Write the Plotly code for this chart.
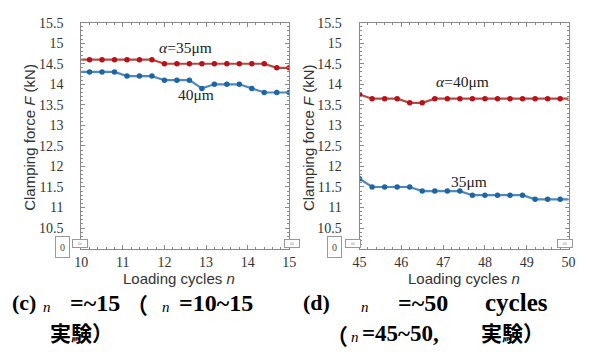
import plotly.graph_objects as go

# ---------------- data ----------------
left_cycles = [9.9, 10.2, 10.5, 10.8, 11.1, 11.4, 11.7, 12.0, 12.3, 12.6, 12.9,
               13.2, 13.5, 13.8, 14.1, 14.4, 14.7, 15.0]
left_a35 = [14.6, 14.6, 14.6, 14.6, 14.6, 14.6, 14.6, 14.5, 14.5, 14.5, 14.5,
            14.5, 14.5, 14.5, 14.5, 14.5, 14.4, 14.4]
left_a40 = [14.3, 14.3, 14.3, 14.3, 14.2, 14.2, 14.2, 14.1, 14.1, 14.1, 13.9,
            14.0, 14.0, 14.0, 13.9, 13.8, 13.8, 13.8]

right_cycles = [45.0, 45.3, 45.6, 45.9, 46.2, 46.5, 46.8, 47.1, 47.4, 47.7, 48.0,
                48.3, 48.6, 48.9, 49.2, 49.5, 49.8, 50.1]
right_a40 = [13.75, 13.65, 13.65, 13.65, 13.55, 13.55, 13.65, 13.65, 13.65, 13.65,
             13.65, 13.65, 13.65, 13.65, 13.65, 13.65, 13.65, 13.65]
right_a35 = [11.7, 11.5, 11.5, 11.5, 11.5, 11.4, 11.4, 11.4, 11.4, 11.3, 11.3,
             11.3, 11.3, 11.3, 11.2, 11.2, 11.2, 11.2]

y_ticks = [10.5, 11, 11.5, 12, 12.5, 13, 13.5, 14, 14.5, 15, 15.5]
y_ticktext = ["10.5", "11", "11.5", "12", "12.5", "13", "13.5", "14", "14.5", "15", "15.5"]
left_xticks = [10, 11, 12, 13, 14, 15]
right_xticks = [45, 46, 47, 48, 49, 50]

RED_LINE = "#b24a47"
RED_MK = "#bb1018"
BLUE_LINE = "#4f88ba"
BLUE_MK = "#1d66a4"

W, H = 598, 352
SERIF = "Liberation Serif, Times New Roman, serif"
SANS = "Liberation Sans, Arial, sans-serif"
CJK = "Noto Sans CJK JP"

fig = go.Figure()


def add_series(x, y, xa, ya, lc, mc):
    fig.add_trace(go.Scatter(x=x, y=y, xaxis=xa, yaxis=ya, mode="lines+markers",
                             line=dict(color=lc, width=2.2),
                             marker=dict(color=mc, size=5.5),
                             showlegend=False, hoverinfo="x+y"))


add_series(left_cycles, left_a35, "x", "y", RED_LINE, RED_MK)
add_series(left_cycles, left_a40, "x", "y", BLUE_LINE, BLUE_MK)
add_series(right_cycles, right_a40, "x2", "y2", RED_LINE, RED_MK)
add_series(right_cycles, right_a35, "x2", "y2", BLUE_LINE, BLUE_MK)

px = lambda v: v / W
py = lambda v: 1 - v / H

frame = dict(showline=True, linecolor="#8a8a8a", linewidth=1, mirror="allticks",
             ticks="inside", ticklen=4, tickcolor="#8a8a8a", showgrid=False,
             zeroline=False, tickfont=dict(family=SERIF, size=14, color="#333"))
xminor = dict(dtick=0.2, ticklen=2, ticks="inside", tickcolor="#8a8a8a")
yminor = dict(dtick=0.1, ticklen=2, ticks="inside", tickcolor="#8a8a8a")

xd1 = [px(76), px(289)]
xd2 = [px(361), px(575)]
yd = [py(246.5), py(16)]

fig.update_layout(
    width=W, height=H, margin=dict(l=0, r=0, t=0, b=0),
    paper_bgcolor="white", plot_bgcolor="white",
    xaxis=dict(domain=xd1, range=[10, 15], tickvals=left_xticks, anchor="y",
               minor=xminor, ticklabelstandoff=1, **frame),
    yaxis=dict(domain=yd, range=[10, 15.5], tickvals=y_ticks, ticktext=y_ticktext,
               anchor="x", minor=yminor, ticklabelstandoff=14, **frame),
    xaxis2=dict(domain=xd2, range=[45, 50], tickvals=right_xticks, anchor="y2",
                minor=xminor, ticklabelstandoff=1, **frame),
    yaxis2=dict(domain=yd, range=[10, 15.5], tickvals=y_ticks, ticktext=y_ticktext,
                anchor="x2", minor=yminor, ticklabelstandoff=14, **frame),
)

ann = []


def text(x, y, t, size, family, color="#111", xanchor="center", yanchor="middle", angle=0):
    ann.append(dict(x=px(x), y=py(y), xref="paper", yref="paper", text=t, showarrow=False,
                    font=dict(size=size, family=family, color=color),
                    xanchor=xanchor, yanchor=yanchor, textangle=angle))


# axis titles
text(176, 277, "Loading cycles <i>n</i>", 15, SANS, "#333")
text(468, 277, "Loading cycles <i>n</i>", 15, SANS, "#333")
text(23, 133, "Clamping force <i>F</i> (kN)", 15, SANS, "#333", angle=-90)
text(309, 133, "Clamping force <i>F</i> (kN)", 15, SANS, "#333", angle=-90)

# series labels
text(183, 41, "<i>α</i>=35μm", 15.5, SERIF, "#222")
text(194, 89, "40μm", 15.5, SERIF, "#222")
text(466, 76, "<i>α</i>=40μm", 15.5, SERIF, "#222")
text(473, 178, "35μm", 15.5, SERIF, "#222")

# axis break marks
for bx in (67, 292, 354, 580):
    ann.append(dict(x=px(bx), y=py(246), xref="paper", yref="paper", text="≈",
                    showarrow=False, font=dict(size=7, family=SERIF, color="#666"),
                    bordercolor="#999", borderwidth=1, borderpad=0, bgcolor="white",
                    width=14, height=7))
for bx in (49.5, 335.5):
    ann.append(dict(x=px(bx), y=py(256), xref="paper", yref="paper", text="0",
                    showarrow=False, font=dict(size=10, family=SERIF, color="#444"),
                    bordercolor="#999", borderwidth=1, borderpad=0, bgcolor="white",
                    width=13, height=20))

# captions
CAP = 24
text(3, 302, "<b>(c)</b>", 22, SERIF, "#000", xanchor="left")
text(35, 306, "<i>n</i>", 15, SERIF, "#000", xanchor="left")
text(62, 302, "<b>=~15</b>", CAP, SERIF, "#000", xanchor="left")
text(120, 302, "<b>（</b>", 22, CJK, "#000", xanchor="left")
text(157, 306, "<i>n</i>", 15, SERIF, "#000", xanchor="left")
text(174, 302, "<b>=10~15</b>", CAP, SERIF, "#000", xanchor="left")
text(42, 332, "<b>実験）</b>", 21, CJK, "#000", xanchor="left")

text(301, 302, "<b>(d)</b>", 22, SERIF, "#000", xanchor="left")
text(360, 306, "<i>n</i>", 15, SERIF, "#000", xanchor="left")
text(398, 302, "<b>=~50</b>", CAP, SERIF, "#000", xanchor="left")
text(487, 302, "<b>cycles</b>", 25, SERIF, "#000", xanchor="left")
text(325, 334, "<b>（</b>", 22, CJK, "#000", xanchor="left")
text(350, 337, "<i>n</i>", 15, SERIF, "#000", xanchor="left")
text(361, 333, "<b>=45~50,</b>", 23, SERIF, "#000", xanchor="left")
text(483, 332, "<b>実験）</b>", 21, CJK, "#000", xanchor="left")

fig.update_layout(annotations=ann)
fig.write_html("out.html", config={"displayModeBar": False},
               post_script="document.body.style.margin='0';document.body.style.overflow='hidden';")
